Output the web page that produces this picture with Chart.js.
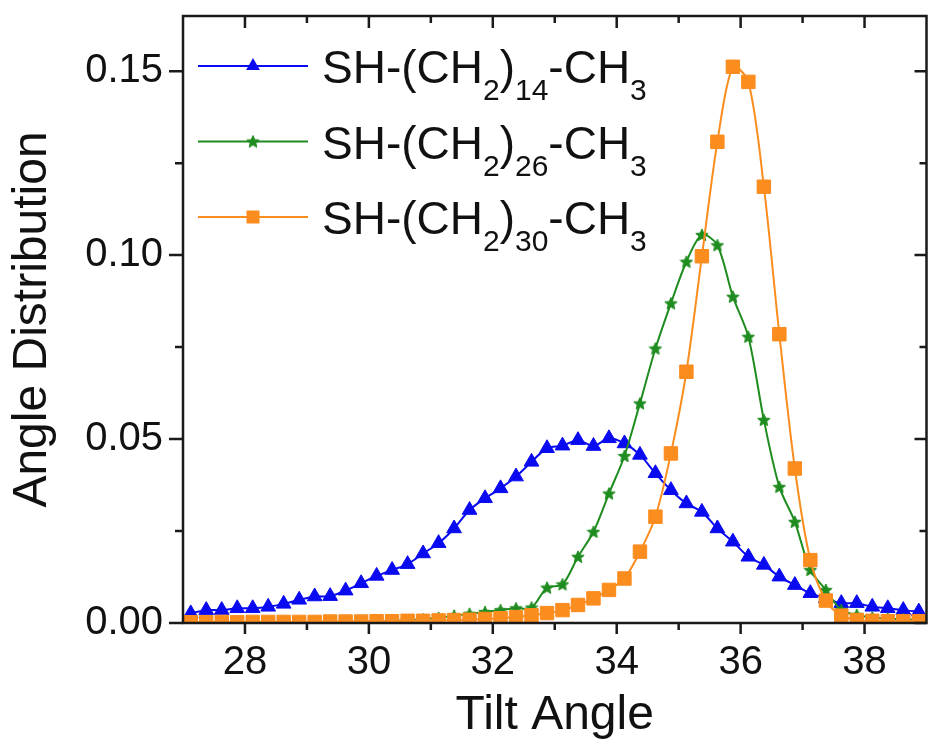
<!DOCTYPE html>
<html><head><meta charset="utf-8">
<script src="https://cdn.jsdelivr.net/npm/chart.js@4.4.1/dist/chart.umd.min.js"></script>
<style>html,body{margin:0;padding:0;background:#fff;overflow:hidden;} #wrap{width:937px;height:751px;position:relative;}</style>
</head><body><div id="wrap"><canvas id="c" width="937" height="751"></canvas></div>
<script>
// ---- data ----
const tiltAngles = [27.125, 27.375, 27.625, 27.875, 28.125, 28.375, 28.625, 28.875, 29.125, 29.375, 29.625, 29.875,
  30.125, 30.375, 30.625, 30.875, 31.125, 31.375, 31.625, 31.875, 32.125, 32.375, 32.625, 32.875,
  33.125, 33.375, 33.625, 33.875, 34.125, 34.375, 34.625, 34.875, 35.125, 35.375, 35.625, 35.875,
  36.125, 36.375, 36.625, 36.875, 37.125, 37.375, 37.625, 37.875, 38.125, 38.375, 38.625, 38.875];
const seriesLabels = ['SH-(CH₂)₁₄-CH₃', 'SH-(CH₂)₂₆-CH₃', 'SH-(CH₂)₃₀-CH₃'];
const ch14 = [0.0026, 0.0035, 0.0035, 0.0040, 0.0040, 0.0044, 0.0052, 0.0063, 0.0072, 0.0073, 0.0088, 0.0108,
  0.0128, 0.0144, 0.0160, 0.0189, 0.0217, 0.0257, 0.0307, 0.0339, 0.0366, 0.0398, 0.0438, 0.0475,
  0.0482, 0.0497, 0.0481, 0.0502, 0.0488, 0.0457, 0.0407, 0.0361, 0.0325, 0.0302, 0.0257, 0.0221,
  0.0180, 0.0158, 0.0126, 0.0103, 0.0081, 0.0067, 0.0054, 0.0054, 0.0044, 0.0040, 0.0035, 0.0031];
const ch26 = [0.0001, 0.0001, 0.0001, 0.0002, 0.0001, 0.0002, 0.0002, 0.0002, 0.0003, 0.0003, 0.0003, 0.0004,
  0.0005, 0.0006, 0.0008, 0.0010, 0.0014, 0.0020, 0.0025, 0.0030, 0.0035, 0.0040, 0.0042, 0.0096,
  0.0105, 0.0180, 0.0248, 0.0352, 0.0454, 0.0597, 0.0746, 0.0869, 0.0982, 0.1055, 0.1027, 0.0887,
  0.0778, 0.0552, 0.0370, 0.0275, 0.0144, 0.0090, 0.0035, 0.0022, 0.0015, 0.0012, 0.0010, 0.0009];
const ch30 = [0.0002, 0.0002, 0.0003, 0.0002, 0.0003, 0.0003, 0.0003, 0.0003, 0.0003, 0.0004, 0.0004, 0.0004,
  0.0005, 0.0005, 0.0006, 0.0006, 0.0007, 0.0008, 0.0009, 0.0011, 0.0013, 0.0016, 0.0021, 0.0027,
  0.0035, 0.0049, 0.0067, 0.0090, 0.0121, 0.0194, 0.0289, 0.0461, 0.0683, 0.0997, 0.1308, 0.1512,
  0.1471, 0.1186, 0.0785, 0.0420, 0.0171, 0.0061, 0.0020, 0.0008, 0.0006, 0.0005, 0.0005, 0.0005];
const xMajorTicks = [28, 30, 32, 34, 36, 38];
const xMinorTicks = [29, 31, 33, 35, 37];
const yMajorTicks = [0, 0.05, 0.10, 0.15];
const yMinorTicks = [0.025, 0.075, 0.125];

// ---- styles ----
const FONT = '"Liberation Sans", Arial, Helvetica, sans-serif';
const BLUE = '#0a0af0', GREEN = '#1f8c1f', ORANGE = '#fb8c1e';

function makeStar(color, size) {
  const c = document.createElement('canvas');
  c.width = size; c.height = size;
  const g = c.getContext('2d');
  const cx = size / 2, cy = size / 2 + 0.5, R = size / 2 - 0.5, r = R * 0.45;
  g.beginPath();
  for (let k = 0; k < 10; k++) {
    const ang = -Math.PI / 2 + k * Math.PI / 5;
    const rad = k % 2 ? r : R;
    g.lineTo(cx + rad * Math.cos(ang), cy + rad * Math.sin(ang));
  }
  g.closePath();
  g.fillStyle = color; g.fill();
  g.strokeStyle = color; g.lineWidth = 1; g.stroke();
  return c;
}
const starImg = makeStar(GREEN, 14);

function pts(arr) { return tiltAngles.map((x, i) => ({ x: x, y: arr[i] })); }

const frameTicks = {
  id: 'frameTicks',
  afterDatasetsDraw(chart) {
    const { ctx, chartArea: a, scales: { x, y } } = chart;
    ctx.save();
    ctx.strokeStyle = '#1a1a1a';
    ctx.lineWidth = 2.5;
    ctx.strokeRect(a.left, a.top, a.right - a.left, a.bottom - a.top);
    ctx.beginPath();
    xMajorTicks.forEach(v => {
      const p = x.getPixelForValue(v);
      ctx.moveTo(p, a.bottom); ctx.lineTo(p, a.bottom + 11);
      ctx.moveTo(p, a.top); ctx.lineTo(p, a.top + 12);
    });
    xMinorTicks.forEach(v => {
      const p = x.getPixelForValue(v);
      ctx.moveTo(p, a.bottom); ctx.lineTo(p, a.bottom + 7);
      ctx.moveTo(p, a.top); ctx.lineTo(p, a.top + 7);
    });
    yMajorTicks.forEach(v => {
      const p = y.getPixelForValue(v);
      ctx.moveTo(a.left, p); ctx.lineTo(a.left - 14, p);
      ctx.moveTo(a.right, p); ctx.lineTo(a.right - 12, p);
    });
    yMinorTicks.forEach(v => {
      const p = y.getPixelForValue(v);
      ctx.moveTo(a.left, p); ctx.lineTo(a.left - 8, p);
      ctx.moveTo(a.right, p); ctx.lineTo(a.right - 7, p);
    });
    ctx.stroke();
    ctx.restore();
  }
};

const SUBS = '₀₁₂₃₄₅₆₇₈₉';
const subLegend = {
  id: 'subLegend',
  afterDraw(chart) {
    const ctx = chart.ctx;
    ctx.save();
    chart.data.datasets.forEach((ds, i) => {
      const rowY = 66 + i * 75.5;
      ctx.strokeStyle = ds.borderColor; ctx.lineWidth = 2;
      ctx.beginPath(); ctx.moveTo(198, rowY); ctx.lineTo(308, rowY); ctx.stroke();
      const mx = 253;
      ctx.fillStyle = ds.borderColor;
      if (ds.pointStyle === 'triangle') {
        const r = 8;
        ctx.beginPath();
        ctx.moveTo(mx, rowY - r);
        ctx.lineTo(mx + r * Math.sin(2 * Math.PI / 3), rowY + r * 0.5);
        ctx.lineTo(mx - r * Math.sin(2 * Math.PI / 3), rowY + r * 0.5);
        ctx.closePath(); ctx.fill();
      } else if (ds.pointStyle === 'rect') {
        const s = 6.5;
        ctx.fillRect(mx - s, rowY - s, 2 * s, 2 * s);
      } else {
        ctx.drawImage(starImg, mx - 7, rowY - 7);
      }
      let tx = 322;
      const base = rowY + 17, subBase = rowY + 34;
      const mainFont = '46px ' + FONT, subFont = '30px ' + FONT;
      ctx.fillStyle = '#111';
      ctx.textBaseline = 'alphabetic';
      ctx.textAlign = 'left';
      const label = ds.label;
      let run = '', runSub = false;
      const flush = () => {
        if (!run) return;
        ctx.font = runSub ? subFont : mainFont;
        ctx.fillText(run, tx, runSub ? subBase : base);
        tx += ctx.measureText(run).width;
        run = '';
      };
      for (const ch of label) {
        const idx = SUBS.indexOf(ch);
        const isSub = idx >= 0;
        if (isSub !== runSub) { flush(); runSub = isSub; }
        run += isSub ? String(idx) : ch;
      }
      flush();
    });
    ctx.restore();
  }
};

new Chart(document.getElementById('c'), {
  type: 'line',
  data: {
    datasets: [
      { label: seriesLabels[0], data: pts(ch14), borderColor: BLUE, backgroundColor: BLUE,
        pointStyle: 'triangle', pointRadius: 8.5, pointBorderWidth: 1, pointBorderColor: BLUE, pointBackgroundColor: BLUE,
        borderWidth: 2, tension: 0.3, order: 3 },
      { label: seriesLabels[1], data: pts(ch26), borderColor: GREEN, backgroundColor: GREEN,
        pointStyle: starImg, pointRadius: 7, borderWidth: 2, tension: 0.3, order: 2 },
      { label: seriesLabels[2], data: pts(ch30), borderColor: ORANGE, backgroundColor: ORANGE,
        pointStyle: 'rect', pointRadius: 9.5, pointBorderWidth: 1, pointBorderColor: ORANGE, pointBackgroundColor: ORANGE,
        borderWidth: 2, tension: 0.3, order: 1 }
    ]
  },
  options: {
    responsive: false,
    animation: false,
    events: [],
    layout: { padding: { top: 16, left: 0, right: 0, bottom: 0 } },
    plugins: { legend: { display: false }, tooltip: { enabled: false } },
    scales: {
      x: {
        type: 'linear', min: 27, max: 39,
        afterBuildTicks(s) { s.ticks = xMajorTicks.map(v => ({ value: v })); },
        afterFit(s) { s.height = 128; s.paddingLeft = 0; s.paddingRight = 0; },
        grid: { display: false, drawTicks: false },
        border: { display: false },
        ticks: { padding: 16, autoSkip: false, maxRotation: 0, color: '#111',
          font: { size: 40, family: FONT }, callback: v => String(v) },
        title: { display: true, text: 'Tilt Angle', color: '#111',
          font: { size: 48, family: FONT }, padding: { top: 0, bottom: 6 } }
      },
      y: {
        type: 'linear', min: 0, max: 0.165,
        afterBuildTicks(s) { s.ticks = yMajorTicks.map(v => ({ value: v })); },
        afterFit(s) { s.width = 183; s.paddingTop = 0; s.paddingBottom = 0; },
        grid: { display: false, drawTicks: false },
        border: { display: false },
        ticks: { padding: 20, color: '#111', font: { size: 40, family: FONT },
          callback: v => Number(v).toFixed(2) },
        title: { display: true, text: 'Angle Distribution', color: '#111',
          font: { size: 48, family: FONT }, padding: { top: 4, bottom: 0 } }
      }
    }
  },
  plugins: [frameTicks, subLegend]
});
</script>
</body></html>
